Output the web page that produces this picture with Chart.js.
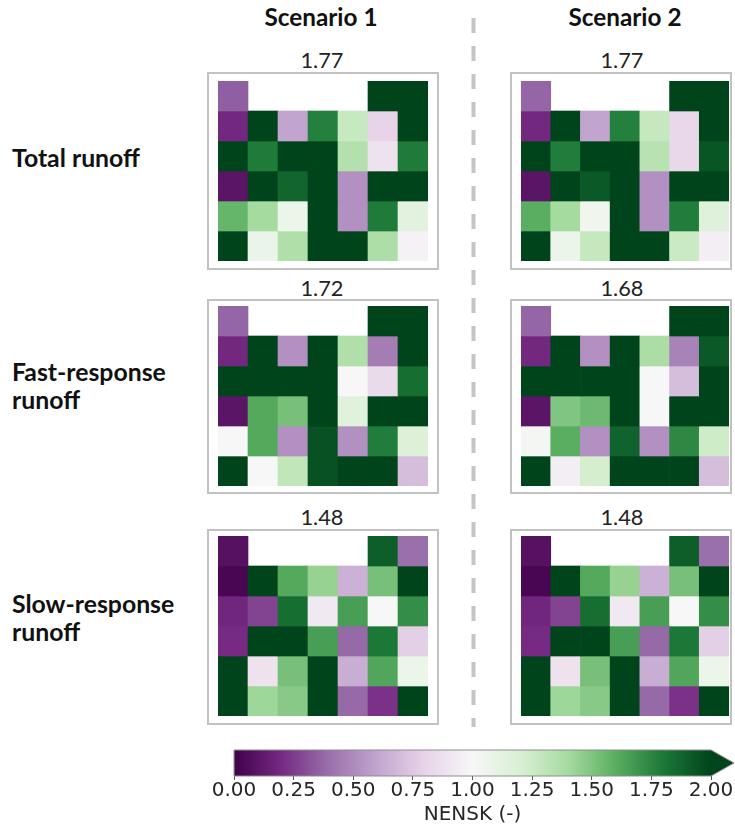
<!DOCTYPE html>
<html><head><meta charset="utf-8">
<script src="https://cdn.jsdelivr.net/npm/chart.js@4.4.1/dist/chart.umd.min.js"></script>
<style>
html,body{margin:0;padding:0;background:#fff;}
#wrap{position:relative;width:735px;height:827px;overflow:hidden;background:#fff;}
.txt{position:absolute;white-space:nowrap;line-height:1;color:#111;}
.box{position:absolute;box-sizing:border-box;border:2px solid #c2c2c2;}
canvas{position:absolute;}
svg{position:absolute;left:0;top:0;}
</style></head><body><div id="wrap"></div>
<script>
// ---------------- data ----------------
const columns = ['1','2','3','4','5','6','7'];
const scenarios = ['Scenario 1', 'Scenario 2'];
const components = [['Total runoff'], ['Fast-response', 'runoff'], ['Slow-response', 'runoff']];
const scores = [['1.77', '1.77'], ['1.72', '1.68'], ['1.48', '1.48']];
const colorbarTicks = [0, 0.25, 0.5, 0.75, 1, 1.25, 1.5, 1.75, 2];
const colorbarLabel = 'NENSK (-)';

const totalS1 = [
  [0.35, null, null, null, null, 2, 2],
  [0.19, 2, 0.6, 1.77, 1.27, 0.8, 2],
  [2, 1.79, 2, 2, 1.35, 0.88, 1.79],
  [0.1, 2, 1.87, 2, 0.52, 2, 2],
  [1.57, 1.4, 1.07, 2, 0.52, 1.79, 1.14],
  [2, 1.08, 1.36, 2, 2, 1.37, 0.97]
];
const totalS2 = [
  [0.37, null, null, null, null, 2, 2],
  [0.19, 2, 0.6, 1.77, 1.28, 0.82, 2],
  [2, 1.78, 2, 2, 1.33, 0.82, 1.93],
  [0.1, 2, 1.92, 2, 0.52, 2, 2],
  [1.6, 1.4, 1.05, 2, 0.52, 1.78, 1.16],
  [2, 1.07, 1.28, 2, 2, 1.26, 0.95]
];
const fastS1 = [
  [0.37, null, null, null, null, 2, 2],
  [0.19, 2, 0.52, 2, 1.36, 0.45, 2],
  [2, 2, 2, 2, 1.0, 0.84, 1.84],
  [0.1, 1.62, 1.52, 2, 1.15, 2, 2],
  [1.0, 1.62, 0.52, 1.95, 0.52, 1.78, 1.17],
  [2, 1.0, 1.3, 1.95, 2, 2, 0.7]
];
const fastS2 = [
  [0.37, null, null, null, null, 2, 2],
  [0.19, 2, 0.52, 2, 1.38, 0.47, 1.92],
  [2, 2, 2, 2, 1.0, 0.7, 2],
  [0.1, 1.5, 1.55, 2, 1.0, 2, 2],
  [1.03, 1.6, 0.52, 1.88, 0.52, 1.74, 1.24],
  [2, 0.95, 1.22, 2, 2, 2, 0.7]
];
const slowS1 = [
  [0.08, null, null, null, null, 1.9, 0.4],
  [0.03, 2, 1.62, 1.44, 0.65, 1.52, 2],
  [0.18, 0.27, 1.84, 0.92, 1.66, 1.0, 1.72],
  [0.2, 2, 2, 1.66, 0.38, 1.8, 0.78],
  [2, 0.88, 1.52, 2, 0.64, 1.63, 1.07],
  [2, 1.42, 1.48, 2, 0.38, 0.22, 2]
];
const slowS2 = [
  [0.08, null, null, null, null, 1.9, 0.4],
  [0.03, 2, 1.62, 1.44, 0.65, 1.52, 2],
  [0.18, 0.27, 1.84, 0.92, 1.66, 1.0, 1.72],
  [0.2, 2, 2, 1.66, 0.38, 1.8, 0.78],
  [2, 0.88, 1.52, 2, 0.64, 1.63, 1.07],
  [2, 1.42, 1.48, 2, 0.38, 0.22, 2]
];
const grids = [[totalS1, totalS2], [fastS1, fastS2], [slowS1, slowS2]];

// ---------------- colour map (PRGn, 0..2) ----------------
const prgnStops = ['#40004b','#762a83','#9970ab','#c2a5cf','#e7d4e8','#f7f7f7','#d9f0d3','#a6dba0','#5aae61','#1b7837','#00441b'];
function hex2rgb(h){return [parseInt(h.slice(1,3),16),parseInt(h.slice(3,5),16),parseInt(h.slice(5,7),16)];}
function prgn(v){
  let t = Math.max(0, Math.min(1, v / 2)) * 10;
  const i = Math.min(9, Math.floor(t)), f = t - i;
  const a = hex2rgb(prgnStops[i]), b = hex2rgb(prgnStops[i+1]);
  return 'rgb(' + a.map((x,k)=>Math.round(x + (b[k]-x)*f)).join(',') + ')';
}

// ---------------- layout ----------------
const wrap = document.getElementById('wrap');
const colGeo = [
  {box: 207, boxW: 232, cell: 218, cellW: 210, center: 322, head: 321},
  {box: 510, boxW: 222, cell: 521, cellW: 208, center: 622, head: 625}
];
const rowGeo = [
  {boxTop: 72, boxH: 198, cellTop: 81, score: 69, labels: [168]},
  {boxTop: 299, boxH: 195, cellTop: 306, score: 297, labels: [382, 410]},
  {boxTop: 529, boxH: 196, cellTop: 536, score: 526, labels: [614, 642]}
];
const cellH = 180;

const mctx = document.createElement('canvas').getContext('2d');
function fitSize(text, weight, family, target){
  mctx.font = weight + ' 100px ' + family;
  return 100 * target / mctx.measureText(text).width;
}
function addText(text, x, baseline, size, weight, family, align, color){
  const d = document.createElement('div');
  d.className = 'txt';
  d.textContent = text;
  d.style.fontFamily = family;
  d.style.fontWeight = weight;
  d.style.fontSize = size + 'px';
  d.style.top = (baseline - 0.887 * size) + 'px';
  d.style.left = x + 'px';
  if (align === 'center') d.style.transform = 'translateX(-50%)';
  if (color) d.style.color = color;
  wrap.appendChild(d);
}
const headSize = fitSize(scenarios[0], 'bold', 'Lato', 113);
const labelSize = fitSize(components[0][0], 'bold', 'Lato', 128);
const scoreSize = fitSize(scores[0][0], 'normal', 'Lato', 43);

// dashed separator
const svgNS = 'http://www.w3.org/2000/svg';
const svg = document.createElementNS(svgNS, 'svg');
svg.setAttribute('width', 735); svg.setAttribute('height', 827);
const ln = document.createElementNS(svgNS, 'line');
ln.setAttribute('x1', 473.5); ln.setAttribute('x2', 473.5);
ln.setAttribute('y1', 18); ln.setAttribute('y2', 727);
ln.setAttribute('stroke', '#c4c4c4'); ln.setAttribute('stroke-width', 4);
ln.setAttribute('stroke-dasharray', '15 13');
svg.appendChild(ln);
wrap.appendChild(svg);

scenarios.forEach((s, j) => addText(s, colGeo[j].head, 27, headSize, 'bold', 'Lato', 'center', '#111'));
components.forEach((lines, i) => lines.forEach((t, k) => addText(t, 12, rowGeo[i].labels[k], labelSize, 'bold', 'Lato', 'left', '#111')));

function makeHeat(canvas, grid){
  const datasets = grid.map((row, r) => ({
    data: row.map(v => v == null ? null : [r, r + 1]),
    backgroundColor: row.map(v => v == null ? 'rgba(0,0,0,0)' : prgn(v)),
    borderWidth: 0,
    grouped: false,
    categoryPercentage: 1,
    barPercentage: 1
  }));
  new Chart(canvas, {
    type: 'bar',
    data: {labels: columns, datasets},
    options: {
      responsive: false, animation: false, events: [],
      layout: {padding: 0},
      plugins: {legend: {display: false}, tooltip: {enabled: false}},
      scales: {
        x: {display: false},
        y: {display: false, min: 0, max: 6, reverse: true}
      }
    }
  });
}

rowGeo.forEach((rg, i) => {
  colGeo.forEach((cg, j) => {
    const b = document.createElement('div');
    b.className = 'box';
    b.style.left = cg.box + 'px'; b.style.top = rg.boxTop + 'px';
    b.style.width = cg.boxW + 'px'; b.style.height = rg.boxH + 'px';
    wrap.appendChild(b);
    const c = document.createElement('canvas');
    c.width = cg.cellW; c.height = cellH;
    c.style.left = cg.cell + 'px'; c.style.top = rg.cellTop + 'px';
    c.style.width = cg.cellW + 'px'; c.style.height = cellH + 'px';
    wrap.appendChild(c);
    makeHeat(c, grids[i][j]);
    addText(scores[i][j], cg.center, rg.score, scoreSize, 'normal', 'Lato', 'center', '#222');
  });
});

// ---------------- colorbar ----------------
const cb = document.createElement('canvas');
cb.width = 535; cb.height = 87;
cb.style.left = '200px'; cb.style.top = '740px';
cb.style.width = '535px'; cb.style.height = '87px';
wrap.appendChild(cb);
const cbOutline = {
  id: 'cbOutline',
  afterDatasetsDraw(chart){
    const {ctx, chartArea: a} = chart;
    const tip = a.right + 23, mid = (a.top + a.bottom) / 2;
    ctx.save();
    ctx.beginPath();
    ctx.moveTo(a.right, a.top); ctx.lineTo(tip, mid); ctx.lineTo(a.right, a.bottom); ctx.closePath();
    ctx.fillStyle = prgnStops[10]; ctx.fill();
    ctx.beginPath();
    ctx.moveTo(a.left, a.top); ctx.lineTo(a.right, a.top); ctx.lineTo(tip, mid);
    ctx.lineTo(a.right, a.bottom); ctx.lineTo(a.left, a.bottom); ctx.closePath();
    ctx.strokeStyle = '#8c8c8c'; ctx.lineWidth = 1; ctx.stroke();
    ctx.restore();
  }
};
new Chart(cb, {
  type: 'bar',
  data: {labels: [''], datasets: [{
    data: [[colorbarTicks[0], colorbarTicks[colorbarTicks.length - 1]]],
    backgroundColor: (ctx) => {
      const a = ctx.chart.chartArea;
      if (!a) return '#999';
      const g = ctx.chart.ctx.createLinearGradient(a.left, 0, a.right, 0);
      prgnStops.forEach((c, i) => g.addColorStop(i / 10, c));
      return g;
    },
    borderWidth: 0, categoryPercentage: 1, barPercentage: 1
  }]},
  options: {
    indexAxis: 'y', responsive: false, animation: false, events: [],
    layout: {padding: {left: 34, right: 24, top: 10, bottom: 0}},
    plugins: {legend: {display: false}, tooltip: {enabled: false}},
    scales: {
      y: {display: false},
      x: {
        min: 0, max: 2,
        afterBuildTicks: (s) => { s.ticks = colorbarTicks.map(v => ({value: v})); },
        afterFit: (s) => { s.height = 51; },
        ticks: {callback: (v) => Number(v).toFixed(2), font: {family: 'DejaVu Sans', size: 20}, color: '#262626', padding: -1, autoSkip: false, maxRotation: 0},
        grid: {drawOnChartArea: false, tickLength: 4, tickColor: '#555', color: '#555'},
        border: {display: false},
        title: {display: true, text: colorbarLabel, font: {family: 'DejaVu Sans', size: 20}, color: '#262626', padding: {top: 0, bottom: 0}}
      }
    }
  },
  plugins: [cbOutline]
});
</script></body></html>
